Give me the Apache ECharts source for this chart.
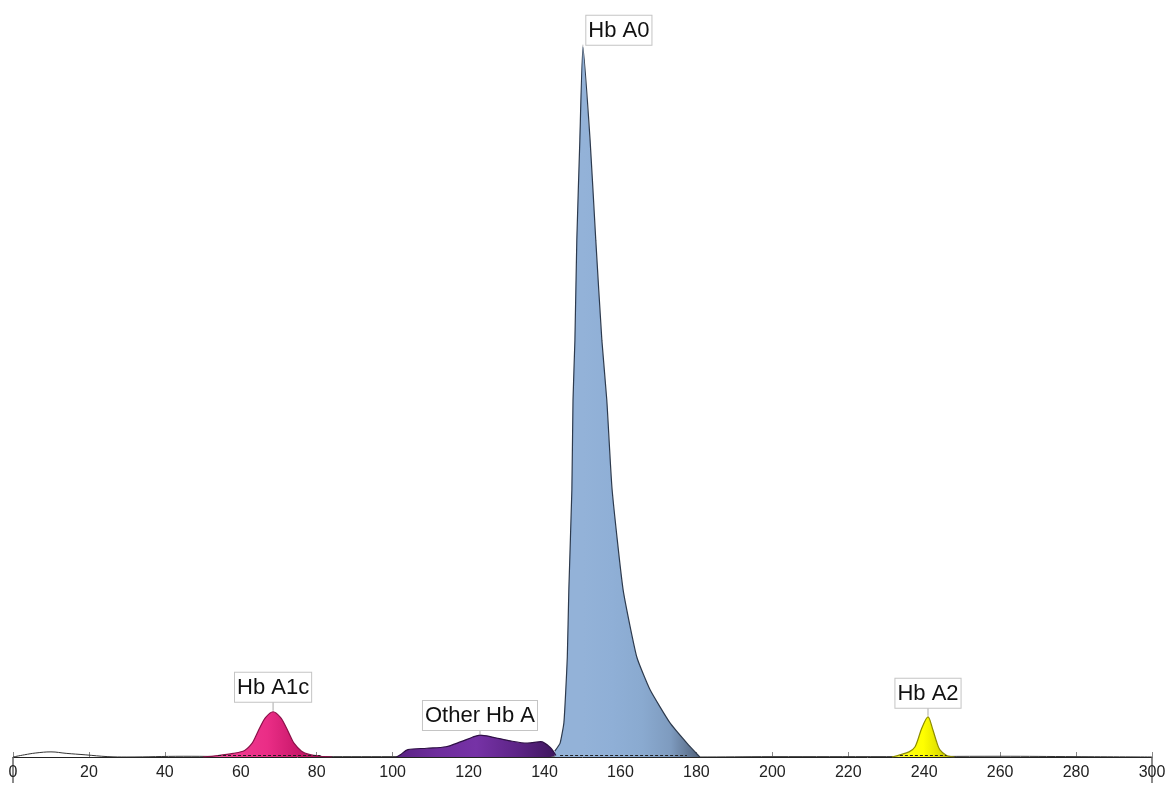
<!DOCTYPE html>
<html>
<head>
<meta charset="utf-8">
<script src="https://cdn.jsdelivr.net/npm/echarts@6/dist/echarts.min.js"></script>
<style>
  html, body { margin: 0; padding: 0; background: #fff; }
  #chart { width: 1169px; height: 787px; }
</style>
</head>
<body>
<div id="chart"></div>
<script>
  // retention time ticks
  var xTicks = [0, 300, 20]

  // baseline trace
  var baseX = [0, 3, 6, 10, 14, 19, 25, 30, 45, 60, 100, 180, 200, 230, 260, 280, 300]
  var baseY = [0, 0.3, 0.55, 0.7, 0.5, 0.3, 0.05, 0, 0.1, 0.05, 0.05, 0, 0.05, 0.05, 0.1, 0.05, 0]

  // Hb A1c
  var a1cX = [50, 54, 58, 61, 63, 64, 65, 66.5, 68.5, 70.5, 72, 73, 74, 76, 78, 81, 84]
  var a1cY = [0, 0.2, 0.5, 0.9, 1.9, 2.9, 4.0, 5.4, 6.2, 5.4, 4.0, 2.9, 1.9, 0.8, 0.35, 0.1, 0]

  // Other Hb A
  var othX = [101, 102, 104, 109, 114, 118, 121, 123, 126.5, 131, 135.5, 139, 141.5, 143]
  var othY = [0, 0.3, 1.0, 1.2, 1.4, 2.1, 2.7, 3.0, 2.7, 2.2, 1.9, 2.1, 1.3, 0.2]

  // Hb A0
  var a0X = [142.7, 144.1, 145.1, 145.6, 146.0, 146.4, 147.2, 147.5, 148.0, 148.5, 149.3, 150.1,
             152.0, 153.5, 155.1, 156.4, 157.8, 160.7, 164.3, 167.8, 173.0, 177.5, 180.9]
  var a0Y = [0.8, 1.9, 4.7, 9.2, 13.7, 22.9, 36.6, 48.9, 57.1, 70.8, 84.5, 97.3,
             84.5, 70.8, 57.1, 48.9, 36.6, 22.9, 13.7, 9.2, 4.7, 1.9, 0]

  // Hb A2
  var a2X = [231.5, 233.6, 236, 237.6, 239.4, 241, 242.3, 243.2, 244.1, 245.9, 248]
  var a2Y = [0, 0.3, 0.7, 1.4, 4.0, 5.5, 3.7, 2.2, 1.0, 0.2, 0]

  var peakNames = ['Hb A1c', 'Other Hb A', 'Hb A0', 'Hb A2']

  function zip(xs, ys) {
    return xs.map(function (x, i) { return [x, ys[i]] })
  }
  function peakTop(xs, ys) {
    var k = 0
    ys.forEach(function (v, i) { if (v > ys[k]) k = i })
    return [xs[k], ys[k]]
  }
  function grad(stops) {
    return new echarts.graphic.LinearGradient(0, 0, 1, 0, stops.map(function (c, i) {
      return { offset: i / (stops.length - 1), color: c }
    }))
  }

  var labelBox = {
    show: true,
    position: 'top',
    distance: 0,
    color: '#111',
    fontFamily: 'Liberation Sans, Arial, sans-serif',
    fontSize: 22,
    lineHeight: 24,
    backgroundColor: '#fff',
    borderColor: '#c4c4c4',
    borderWidth: 1,
    padding: [3, 2, 2, 2]
  }

  function peak(name, xs, ys, colors, lineColor, lead, offset, dashed, smooth) {
    var s = {
      name: name,
      type: 'line',
      smooth: smooth,
      symbol: 'none',
      data: zip(xs, ys),
      lineStyle: { color: lineColor, width: 1.2 },
      areaStyle: { color: grad(colors), opacity: 1 },
      markPoint: {
        silent: true,
        symbol: 'rect',
        symbolSize: [1, lead],
        symbolOffset: [0, -lead / 2 - 1],
        itemStyle: { color: '#aaa' },
        label: Object.assign({}, labelBox, { formatter: name, offset: offset }),
        data: [{ coord: peakTop(xs, ys) }]
      }
    }
    if (dashed) {
      s.markLine = {
        silent: true,
        symbol: 'none',
        label: { show: false },
        lineStyle: { color: '#222', type: [3, 2], width: 1.2 },
        data: [[{ coord: [xs[1], 0.2] }, { coord: [xs[xs.length - 2], 0.2] }]]
      }
    }
    return s
  }

  var chart = echarts.init(document.getElementById('chart'))
  var option = {
    animation: false,
    backgroundColor: '#fff',
    grid: { left: 13, right: 17, top: 27, bottom: 30 },
    xAxis: [
      {
        type: 'value',
        min: xTicks[0],
        max: xTicks[1],
        interval: xTicks[2],
        axisLine: { lineStyle: { color: '#222', width: 1 } },
        axisTick: { show: true, inside: true, length: 5, lineStyle: { color: '#888' } },
        splitLine: { show: false },
        axisLabel: {
          color: '#222',
          fontFamily: 'Liberation Sans, Arial, sans-serif',
          fontSize: 16,
          margin: 8
        }
      },
      {
        type: 'value',
        position: 'bottom',
        min: xTicks[0],
        max: xTicks[1],
        interval: xTicks[1],
        axisLine: { show: false },
        axisTick: { show: true, length: 26, lineStyle: { color: '#666', width: 1.5 } },
        axisLabel: { show: false },
        splitLine: { show: false }
      }
    ],
    yAxis: {
      type: 'value',
      min: 0,
      max: 100,
      show: false
    },
    series: [
      {
        name: 'baseline',
        type: 'line',
        smooth: 0.4,
        symbol: 'none',
        data: zip(baseX, baseY),
        lineStyle: { color: '#333', width: 1 },
        z: 1
      },
      peak(peakNames[0], a1cX, a1cY, ['#f470ad', '#f03a90', '#ea2d86', '#c8186a', '#9c104f'], '#8a1048', 9, [0, 0], true, 0.3),
      peak(peakNames[1], othX, othY, ['#5a2384', '#6e2d9c', '#7632a6', '#5e2588', '#3f175e'], '#2e1045', 4, [0, 0], false, 0.3),
      peak(peakNames[2], a0X, a0Y, ['#93b2d8', '#93b2d8', '#8fafd6', '#8aaad0', '#7e9bbf', '#50627c'], '#2d3a4d', 1, [36, 0], true, 0.15),
      peak(peakNames[3], a2X, a2Y, ['#f4f460', '#ffff10', '#ffff00', '#e0e000', '#a8a800'], '#8c8c00', 8, [0, 0], true, 0.3)
    ]
  }
  chart.setOption(option)
</script>
</body>
</html>
